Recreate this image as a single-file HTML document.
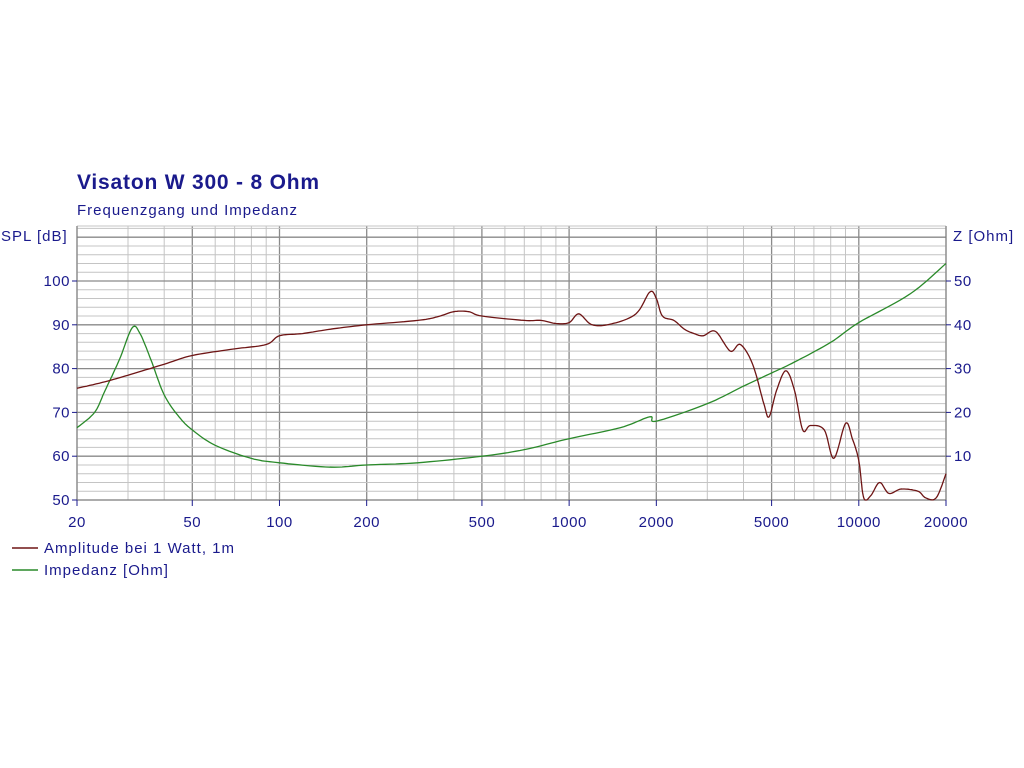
<!DOCTYPE html>
<html><head><meta charset="utf-8"><style>
html,body{margin:0;padding:0;background:#fff;}
svg{display:block;font-family:"Liberation Sans",sans-serif;}
</style></head><body>
<svg id="s" width="1024" height="768" xmlns="http://www.w3.org/2000/svg">
<rect width="1024" height="768" fill="#fff"/>
<text x="77" y="189" font-size="21" font-weight="bold" letter-spacing="0.8" fill="#1a1a8c">Visaton W 300 - 8 Ohm</text>
<text x="77" y="215" font-size="15" letter-spacing="1" fill="#1a1a8c">Frequenzgang und Impedanz</text>
<text x="1" y="241" font-size="15" letter-spacing="1" fill="#1a1a8c">SPL [dB]</text>
<text x="953" y="241" font-size="15" letter-spacing="1" fill="#1a1a8c">Z [Ohm]</text>
<g id="grid"></g>
<g id="lab" font-size="15" letter-spacing="0.5" fill="#1a1a8c"></g>
<polyline id="z" fill="none" stroke="#2a8a2a" stroke-width="1.3"/>
<polyline id="spl" fill="none" stroke="#6e1515" stroke-width="1.3"/>
<line x1="12" y1="548" x2="38" y2="548" stroke="#6e1515" stroke-width="1.5"/>
<text x="44" y="553" font-size="15" letter-spacing="1" fill="#1a1a8c">Amplitude bei 1 Watt, 1m</text>
<line x1="12" y1="570" x2="38" y2="570" stroke="#2a8a2a" stroke-width="1.5"/>
<text x="44" y="575" font-size="15" letter-spacing="1" fill="#1a1a8c">Impedanz [Ohm]</text>
</svg>
<script>
const L=77,R=946,B=500,T=226,ppd=(R-L)/3;
const X=f=>L+ppd*Math.log10(f/20), Y=d=>B-(d-50)*4.38;
let g='';
const maj=[20,50,100,200,500,1000,2000,5000,10000,20000];
for(let dec=10;dec<=10000;dec*=10)for(let k=1;k<10;k++){const f=dec*k;if(f<20||f>20000)continue;
 const x=X(f).toFixed(1);const m=maj.includes(f);
 g+=`<line x1="${x}" y1="${T}" x2="${x}" y2="${B}" stroke="${m?'#8a8a8a':'#c4c4c4'}" stroke-width="${m?1.3:1}"/>`;}
for(let d=50;d<=112;d+=2){const y=Y(d).toFixed(1);const m=d%10==0;
 g+=`<line x1="${L}" y1="${y}" x2="${R}" y2="${y}" stroke="${m?'#8a8a8a':'#c4c4c4'}" stroke-width="${m?1.3:1}"/>`;}
g+=`<line x1="${L}" y1="${T}" x2="${R}" y2="${T}" stroke="#c4c4c4"/>`;
g+=`<line x1="${L}" y1="${T}" x2="${L}" y2="${B}" stroke="#777"/><line x1="${R}" y1="${T}" x2="${R}" y2="${B}" stroke="#777"/><line x1="${L}" y1="${B}" x2="${R}" y2="${B}" stroke="#777"/>`;
let lb='';
maj.forEach(f=>{const x=X(f);g+=`<line x1="${x}" y1="${B}" x2="${x}" y2="${B+6}" stroke="#1a1a8c"/>`;lb+=`<text x="${x}" y="527" text-anchor="middle">${f}</text>`;});
for(let d=50;d<=100;d+=10){const y=Y(d);g+=`<line x1="${L-5}" y1="${y}" x2="${L}" y2="${y}" stroke="#1a1a8c"/>`;lb+=`<text x="${L-7}" y="${y+5}" text-anchor="end">${d}</text>`;
 if(d>50){g+=`<line x1="${R}" y1="${y}" x2="${R+5}" y2="${y}" stroke="#1a1a8c"/>`;lb+=`<text x="${R+8}" y="${y+5}">${d-50}</text>`;}}
document.getElementById('grid').innerHTML=g;document.getElementById('lab').innerHTML=lb;
const spl=[[20,75.5],[25,77],[30,78.5],[40,81],[50,83],[70,84.5],[90,85.5],[100,87.5],[120,88],[150,89],[200,90],[300,91],[350,91.8],[400,93],[450,93],[500,92],[700,91],[800,91],[900,90.3],[1000,90.5],[1080,92.5],[1200,90],[1400,90.2],[1700,92.5],[1900,97.5],[2000,96],[2100,92],[2300,91],[2500,89],[2700,88],[2900,87.5],[3200,88.5],[3600,84],[3900,85.5],[4300,81],[4700,72],[4900,69],[5200,75],[5600,79.5],[6000,75],[6400,66],[6800,67],[7600,66],[8200,59.5],[9000,67.5],[9500,64],[10000,59],[10400,50.5],[11000,51],[11800,54],[12700,51.5],[14000,52.5],[16000,52],[17000,50.5],[18500,50.5],[20000,56]];
const z=[[20,16.5],[23,20],[25,25],[28,32],[31,39.3],[33,38],[36,32],[40,24],[45,19],[50,16],[60,12.5],[80,9.5],[100,8.5],[150,7.5],[200,8],[300,8.5],[500,10],[700,11.5],[1000,14],[1500,16.5],[1900,19],[2000,18],[3000,22],[4000,26],[5000,29],[6000,31.5],[8000,36],[10000,40.5],[15000,47],[20000,54]];
function smooth(a,conv){let out=[];for(let i=0;i<a.length-1;i++){const p0=a[Math.max(0,i-1)],p1=a[i],p2=a[i+1],p3=a[Math.min(a.length-1,i+2)];
 const P=[p0,p1,p2,p3].map(p=>[X(p[0]),conv(p[1])]);
 for(let t=0;t<1;t+=0.1){const t2=t*t,t3=t2*t;const c=k=>0.5*((2*P[1][k])+(-P[0][k]+P[2][k])*t+(2*P[0][k]-5*P[1][k]+4*P[2][k]-P[3][k])*t2+(-P[0][k]+3*P[1][k]-3*P[2][k]+P[3][k])*t3);
 out.push(c(0).toFixed(1)+','+Math.min(B,c(1)).toFixed(1));}}
 const l=a[a.length-1];out.push(X(l[0]).toFixed(1)+','+conv(l[1]).toFixed(1));return out.join(' ');}
document.getElementById('spl').setAttribute('points',smooth(spl,Y));
document.getElementById('z').setAttribute('points',smooth(z,v=>Y(v+50)));
</script>
</body></html>
